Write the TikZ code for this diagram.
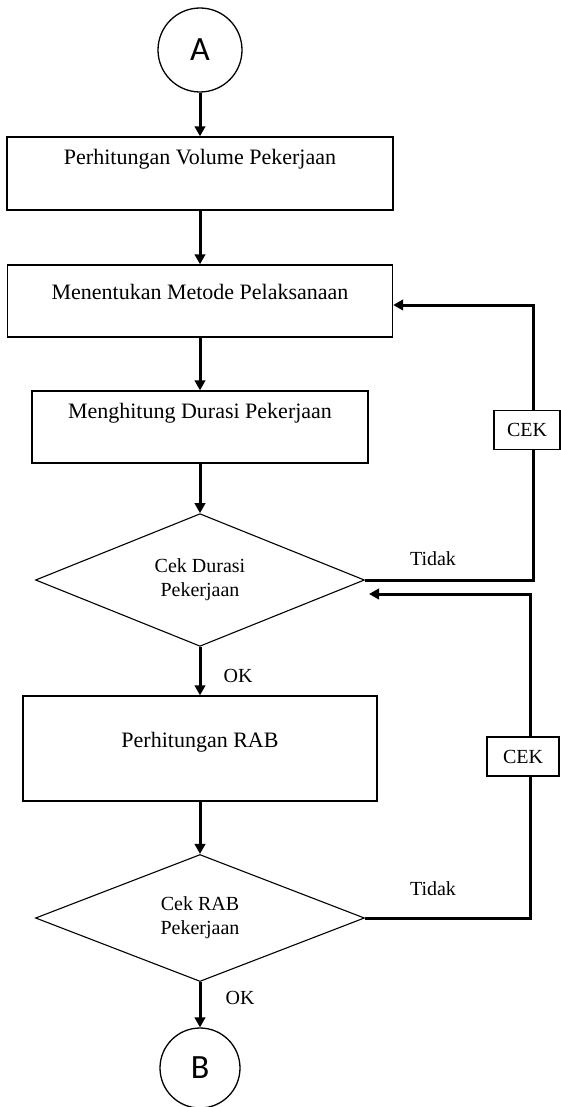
\documentclass[tikz,border=0pt]{standalone}
\usepackage{fontspec}
\setmainfont{Liberation Serif}
\newfontfamily\connfont{Carlito}
\usetikzlibrary{arrows.meta, shapes.geometric}

\begin{document}
\begin{tikzpicture}[x=1pt, y=-1pt, >={Triangle[length=10pt,width=10.5pt]},
    every node/.style={font=\fontsize{20}{24}\selectfont},
    proc/.style={draw, line width=1.4pt, inner sep=0pt, font=\fontsize{22}{26}\selectfont},
    decide/.style={draw, diamond, line width=1.1pt, inner sep=0pt, align=center,
        minimum width=329pt, minimum height=127pt},
    conn/.style={draw, circle, line width=1.3pt, inner sep=0pt,
        font=\connfont\fontsize{34}{34}\selectfont},
    cekbox/.style={draw, fill=white, line width=1.1pt, minimum height=39pt},
    flow/.style={->, line width=3pt}]

\useasboundingbox (0,0) rectangle (561,1107);

% Main column
\node[conn, minimum size=84pt] (A) at (200,50) {A};
\node[proc, minimum width=386pt, minimum height=73pt, text depth=34pt] (vol) at (200,173.5)
    {Perhitungan Volume Pekerjaan};
\node[proc, minimum width=385pt, minimum height=72pt, text depth=19pt] (met) at (200,301)
    {Menentukan Metode Pelaksanaan};
\node[proc, minimum width=336pt, minimum height=72pt, text depth=33pt] (dur) at (200,427)
    {Menghitung Durasi Pekerjaan};
\node[decide] (cekdur) at (200,580) {Cek Durasi\\Pekerjaan};
\node[proc, minimum width=354pt, minimum height=105pt, text depth=18pt] (rab) at (200,748.5)
    {Perhitungan RAB};
\node[decide] (cekrab) at (200,918) {Cek RAB\\Pekerjaan};
\node[conn, minimum size=80pt] (B) at (200,1068) {B};

% Arrows down
\draw[flow] (A) -- (vol);
\draw[flow] (vol) -- (met);
\draw[flow] (met) -- (dur);
\draw[flow] (dur) -- (cekdur);
\draw[flow] (cekdur) -- (rab);
\draw[flow] (rab) -- (cekrab);
\draw[flow] (cekrab) -- (B);

% Loops back
\coordinate (t1) at (533,305);
\coordinate (t2) at (530,594);
\coordinate (in1) at (369,594);
\draw[flow] (cekdur.east) -| (t1) -- (met.east |- t1);
\draw[flow] (cekrab.east) -| (t2) -- (in1);

\node[cekbox, minimum width=66pt] (cek1) at (527,430) {CEK};
\node[cekbox, minimum width=72pt] (cek2) at (523,756.5) {CEK};

% Labels
\node (tidak1) at (433,559) {Tidak};
\node (tidak2) at (433,889) {Tidak};
\node (ok1) at (238,676) {OK};
\node (ok2) at (240,998) {OK};

\end{tikzpicture}
\end{document}
